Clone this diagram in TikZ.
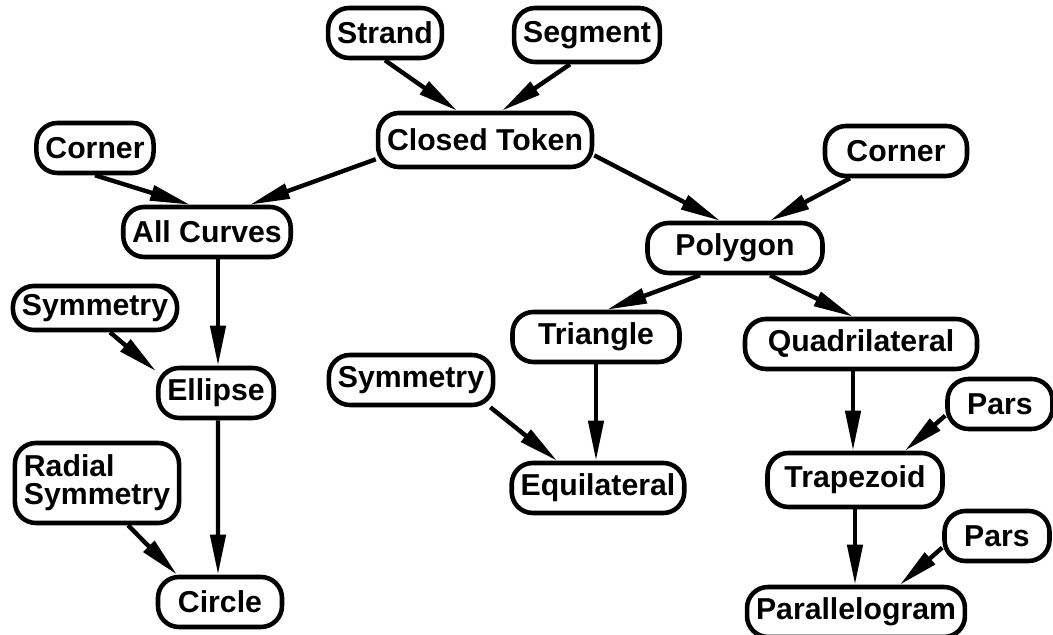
\documentclass[tikz,border=0pt]{standalone}
\usepackage{fontspec}
\setmainfont{Liberation Sans}
\usetikzlibrary{arrows.meta,positioning}

\begin{document}
\begin{tikzpicture}[
    >={Triangle[length=0.8cm,width=0.3cm]},
    box/.style={draw, line width=2.6pt, rounded corners=0.42cm, fill=white,
        font=\bfseries\fontsize{17.2}{19}\selectfont,
        inner xsep=0.18cm, minimum height=1cm},
    arr/.style={->, line width=2.5pt},
]
\useasboundingbox (0,0) rectangle (21.06,12.70);

% top of the tree
\node[box] (strand)  at (7.70,12.04) {Strand};
\node[box, minimum height=1.08cm] (segment) at (11.74,12.00) {Segment};
\node[box, minimum height=1.08cm] (token) at (9.70,9.90) {Closed Token};

% curves branch
\node[box] (cornerA) at (1.90,9.74) {Corner};
\node[box] (curves)  at (4.14,8.06) {All Curves};
\node[box, minimum height=0.88cm] (symA) at (1.90,6.54) {Symmetry};
\node[box] (ellipse) at (4.32,4.84) {Ellipse};
\node[box, align=left, minimum height=1.6cm] (radial) at (1.94,3.04) {Radial\\[-3pt]Symmetry};
\node[box, minimum width=2.48cm] (circle) at (4.40,0.66) {Circle};

% polygon branch
\node[box, minimum width=2.84cm] (cornerB) at (17.92,9.68) {Corner};
\node[box, minimum width=3.5cm]  (polygon) at (14.70,7.74) {Polygon};
\node[box, minimum width=3.34cm] (triangle) at (11.92,5.96) {Triangle};
\node[box] (symB)    at (8.22,5.10) {Symmetry};
\node[box] (equi)    at (11.96,2.94) {Equilateral};
\node[box, minimum width=4.64cm] (quad) at (17.22,5.82) {Quadrilateral};
\node[box, minimum width=2.1cm]  (parsA) at (20.00,4.62) {Pars};
\node[box, minimum width=3.5cm, minimum height=1.08cm] (trap) at (17.10,3.10) {Trapezoid};
\node[box, minimum width=2.1cm]  (parsB) at (19.94,1.98) {Pars};
\node[box] (para)    at (17.12,0.46) {Parallelogram};

% links
\draw[arr] (strand.south) -- ([xshift=-0.56cm]token.north);
\draw[arr] ([xshift=-0.34cm]segment.south) -- ([xshift=0.34cm]token.north);
\draw[arr] (token.190) -- ([xshift=0.86cm]curves.north);
\draw[arr] (cornerA.south) -- ([xshift=-0.34cm]curves.north);
\draw[arr] ([xshift=0.22cm]curves.south) -- ([xshift=0.04cm]ellipse.north);
\draw[arr] ([xshift=0.3cm]symA.south) -- (ellipse.160);
\draw[arr] ([xshift=0.04cm]ellipse.south) -- ([xshift=-0.04cm]circle.north);
\draw[arr] ([xshift=0.62cm]radial.south) -- ([xshift=-0.86cm]circle.north);

\draw[arr] (token.-8) -- ([xshift=-0.3cm]polygon.north);
\draw[arr] ([xshift=-0.92cm]cornerB.south) -- ([xshift=0.7cm]polygon.north);
\draw[arr] ([xshift=-0.7cm]polygon.south) -- ([xshift=0.22cm]triangle.north);
\draw[arr] ([xshift=0.7cm]polygon.south) -- ([xshift=-0.16cm]quad.north);
\draw[arr] (triangle.south) -- (triangle.south |- equi.north);
\draw[arr] ([xshift=-0.1cm]symB.south east) -- ([xshift=-0.82cm]equi.north);
\draw[arr] ([xshift=-0.16cm]quad.south) -- ([xshift=-0.16cm]quad.south |- trap.north);
\draw[arr] (parsA.192) -- ([xshift=1cm]trap.north);
\draw[arr] (trap.south) -- (trap.south |- para.north);
\draw[arr] (parsB.192) -- ([xshift=0.88cm]para.north);

\end{tikzpicture}
\end{document}
